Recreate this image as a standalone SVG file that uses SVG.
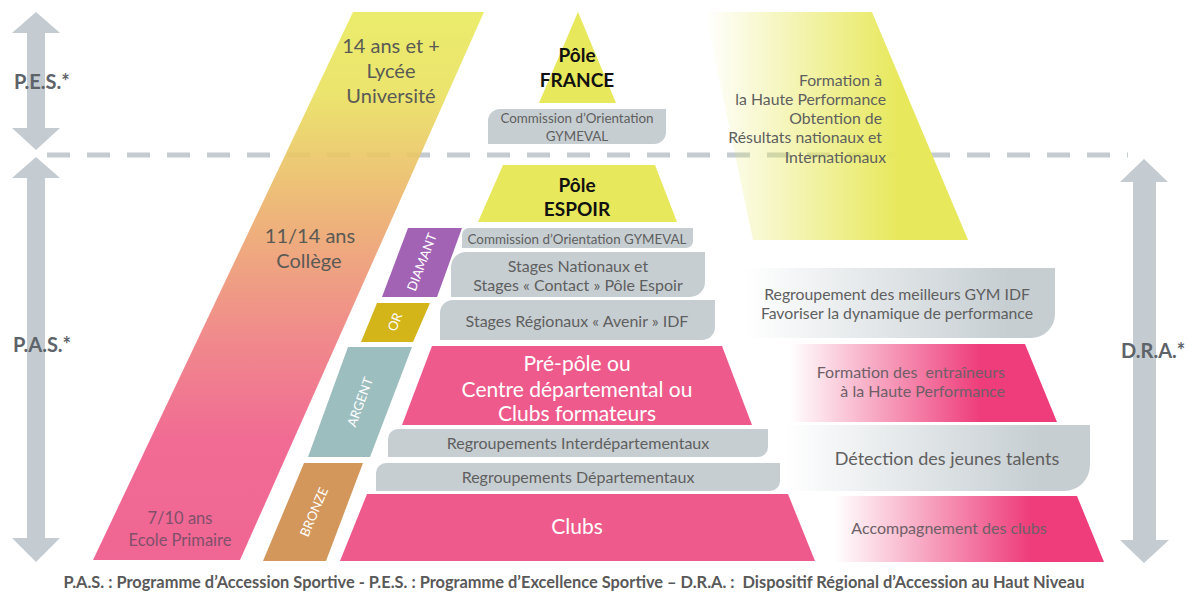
<svg xmlns="http://www.w3.org/2000/svg" width="1198" height="594" viewBox="0 0 1198 594">
<defs>
<style>
text{font-family:Lato,"Open Sans","Liberation Sans",sans-serif;}
.lbl{font-weight:bold;font-size:20px;fill:#5d6369;}
.g{fill:#c6ced2;}
.arr{fill:#c4ccd1;}
.pk{fill:#ee5a8b;}
.ye{fill:#e7e85b;}
.bt{font-size:16px;fill:#5f5f5f;text-anchor:middle;}
.wt{font-size:21px;fill:#ffffff;text-anchor:middle;}
.bd{font-size:13px;fill:#ffffff;text-anchor:middle;}
.age{font-size:20px;fill:#5a5a55;text-anchor:middle;}
.rt{font-size:15.8px;fill:#5f5f5f;}
.pt{font-size:16px;fill:#6e5f67;}
.pole{font-size:19px;font-weight:bold;fill:#111;text-anchor:middle;}
</style>
<linearGradient id="ageGrad" gradientUnits="userSpaceOnUse" x1="0" y1="12" x2="0" y2="560">
<stop offset="0" stop-color="#e9ea5c"/>
<stop offset="0.15" stop-color="#e9e15e"/>
<stop offset="0.38" stop-color="#ecab6c"/>
<stop offset="0.6" stop-color="#ef7c80"/>
<stop offset="0.78" stop-color="#ef5b88"/>
<stop offset="1" stop-color="#ee5588"/>
</linearGradient>
<linearGradient id="yeFade" gradientUnits="userSpaceOnUse" x1="705" y1="0" x2="900" y2="0">
<stop offset="0" stop-color="#e7e85b" stop-opacity="0"/>
<stop offset="1" stop-color="#e7e85b" stop-opacity="1"/>
</linearGradient>
<linearGradient id="grFade1" gradientUnits="userSpaceOnUse" x1="745" y1="0" x2="1010" y2="0">
<stop offset="0" stop-color="#c6ced2" stop-opacity="0"/>
<stop offset="1" stop-color="#c6ced2" stop-opacity="1"/>
</linearGradient>
<linearGradient id="grFade2" gradientUnits="userSpaceOnUse" x1="785" y1="0" x2="1040" y2="0">
<stop offset="0" stop-color="#c6ced2" stop-opacity="0"/>
<stop offset="1" stop-color="#c6ced2" stop-opacity="1"/>
</linearGradient>
<linearGradient id="pkFade1" gradientUnits="userSpaceOnUse" x1="790" y1="0" x2="980" y2="0">
<stop offset="0" stop-color="#ee3d7a" stop-opacity="0"/>
<stop offset="1" stop-color="#ee3d7a" stop-opacity="1"/>
</linearGradient>
<linearGradient id="pkFade2" gradientUnits="userSpaceOnUse" x1="835" y1="0" x2="1030" y2="0">
<stop offset="0" stop-color="#ee3d7a" stop-opacity="0"/>
<stop offset="1" stop-color="#ee3d7a" stop-opacity="1"/>
</linearGradient>
</defs>
<rect width="1198" height="594" fill="#ffffff"/>

<g id="connectors">
<line x1="47" y1="155" x2="1128" y2="155" stroke="#c4ccd1" stroke-width="5" stroke-dasharray="23 17"/>
</g>

<g id="arrow-pes">
<path class="arr" d="M36 12 L60 33 L45 33 L45 128 L60 128 L36 150 L12 128 L27 128 L27 33 L12 33 Z"/>
<text class="lbl" x="14" y="89">P.E.S.*</text>
</g>
<g id="arrow-pas">
<path class="arr" d="M36 157 L60 178 L45 178 L45 538 L60 538 L36 562 L12 538 L27 538 L27 178 L12 178 Z"/>
<text class="lbl" x="13" y="352">P.A.S.*</text>
</g>
<g id="arrow-dra">
<path class="arr" d="M1144 159 L1168 182 L1156 182 L1156 540 L1169 540 L1144 563 L1120 540 L1133 540 L1133 182 L1120 182 Z"/>
<text class="lbl" x="1121" y="358">D.R.A.*</text>
</g>

<g id="age-band">
<polygon points="353,12 484,12 240,560 93,560" fill="url(#ageGrad)" fill-opacity="0.9"/>
<text class="age" x="391" y="53">14 ans et +</text>
<text class="age" x="391" y="78">Lycée</text>
<text class="age" x="391" y="103">Université</text>
<text class="age" x="310" y="243">11/14 ans</text>
<text class="age" x="309" y="268">Collège</text>
<text class="age" x="180" y="524" style="font-size:16.5px;fill:#80506a">7/10 ans</text>
<text class="age" x="180" y="546" style="font-size:16.5px;fill:#80506a">Ecole Primaire</text>
</g>

<g id="pole-france">
<polygon class="ye" points="578,12 616,103 539,103"/>
<text class="pole" x="577" y="62">Pôle</text>
<text class="pole" x="577" y="87">FRANCE</text>
</g>
<g id="commission-1">
<path class="g" d="M500 109 H666 V132 A12 12 0 0 1 654 144 H488 V121 A12 12 0 0 1 500 109 Z"/>
<text class="bt" x="577" y="123" style="font-size:13.4px">Commission d’Orientation</text>
<text class="bt" x="577" y="141" style="font-size:13.4px">GYMEVAL</text>
</g>
<g id="pole-espoir">
<polygon class="ye" points="503,165 655,165 677,222 478,222"/>
<text class="pole" x="577" y="192">Pôle</text>
<text class="pole" x="577" y="216">ESPOIR</text>
</g>
<g id="commission-2">
<path class="g" d="M469 228 H693 V241 A7 7 0 0 1 686 248 H462 V235 A7 7 0 0 1 469 228 Z"/>
<text class="bt" x="577" y="243.5" style="font-size:13.4px">Commission d’Orientation GYMEVAL</text>
</g>
<g id="stages-nationaux">
<path class="g" d="M466 252 H705 V282 A15 15 0 0 1 690 297 H451 V267 A15 15 0 0 1 466 252 Z"/>
<text class="bt" x="578" y="272">Stages Nationaux et</text>
<text class="bt" x="578" y="291">Stages « Contact » Pôle Espoir</text>
</g>
<g id="stages-regionaux">
<path class="g" d="M453 300 H715 V327 A13 13 0 0 1 702 340 H440 V313 A13 13 0 0 1 453 300 Z"/>
<text class="bt" x="577" y="327">Stages Régionaux « Avenir » IDF</text>
</g>
<g id="pre-pole">
<polygon class="pk" points="432,346 722,346 752,425 402,425"/>
<text class="wt" x="577" y="371">Pré-pôle ou</text>
<text class="wt" x="577" y="397">Centre départemental ou</text>
<text class="wt" x="577" y="421">Clubs formateurs</text>
</g>
<g id="regroupements-inter">
<path class="g" d="M398 429 H768 V447 A10 10 0 0 1 758 457 H388 V439 A10 10 0 0 1 398 429 Z"/>
<text class="bt" x="578" y="449">Regroupements Interdépartementaux</text>
</g>
<g id="regroupements-dep">
<path class="g" d="M386 463 H780 V481 A10 10 0 0 1 770 491 H376 V473 A10 10 0 0 1 386 463 Z"/>
<text class="bt" x="578" y="483">Regroupements Départementaux</text>
</g>
<g id="clubs">
<polygon class="pk" points="367,494 788,494 815,561 340,561"/>
<text class="wt" x="577" y="534">Clubs</text>
</g>

<g id="badge-diamant">
<polygon points="408,228 462,228 437,297 382,297" fill="#a263b5"/>
<text class="bd" transform="translate(422,262) rotate(-69)" y="4.5">DIAMANT</text>
</g>
<g id="badge-or">
<polygon points="377,303 430,303 413,342 361,342" fill="#d3b419"/>
<text class="bd" transform="translate(395,322) rotate(-68)" y="4.5">OR</text>
</g>
<g id="badge-argent">
<polygon points="348,347 412,347 370,457 308,457" fill="#9dbebf"/>
<text class="bd" transform="translate(360,402) rotate(-70)" y="4.5">ARGENT</text>
</g>
<g id="badge-bronze">
<polygon points="304,463 363,463 326,561 263,561" fill="#d3975b"/>
<text class="bd" transform="translate(314,512) rotate(-67)" y="4.5">BRONZE</text>
</g>

<g id="formation-hp">
<polygon points="705,12 872,12 968,240 753,240" fill="url(#yeFade)"/>
<text class="rt" text-anchor="end" x="882" y="86">Formation à</text>
<text class="rt" text-anchor="end" x="886" y="105">la Haute Performance</text>
<text class="rt" text-anchor="end" x="882" y="124">Obtention de</text>
<text class="rt" text-anchor="end" x="882" y="143">Résultats nationaux et</text>
<text class="rt" text-anchor="end" x="886" y="163">Internationaux</text>
</g>
<g id="regroupement-meilleurs">
<path d="M745 268 H1055 V314 A24 24 0 0 1 1031 338 H745 Z" fill="url(#grFade1)"/>
<text class="rt" text-anchor="middle" x="897" y="300">Regroupement des meilleurs GYM IDF</text>
<text class="rt" text-anchor="middle" x="897" y="319">Favoriser la dynamique de performance</text>
</g>
<g id="formation-entraineurs">
<polygon points="790,344 1025,344 1057,422 790,422" fill="url(#pkFade1)"/>
<text class="pt" text-anchor="end" x="1005" y="378" xml:space="preserve">Formation des  entraîneurs</text>
<text class="pt" text-anchor="end" x="1005" y="397">à la Haute Performance</text>
</g>
<g id="detection">
<path d="M785 425 H1090 V465 A26 26 0 0 1 1064 491 H785 Z" fill="url(#grFade2)"/>
<text class="rt" text-anchor="middle" x="947" y="465" style="font-size:18px">Détection des jeunes talents</text>
</g>
<g id="accompagnement">
<polygon points="835,496 1077,496 1104,562 835,562" fill="url(#pkFade2)"/>
<text class="pt" text-anchor="middle" x="949" y="534">Accompagnement des clubs</text>
</g>

<g id="footer">
<text x="574" y="588" text-anchor="middle" style="font-size:16.4px;font-weight:bold;fill:#595959" xml:space="preserve">P.A.S. : Programme d’Accession Sportive - P.E.S. : Programme d’Excellence Sportive – D.R.A. :  Dispositif Régional d’Accession au Haut Niveau</text>
</g>
</svg>
